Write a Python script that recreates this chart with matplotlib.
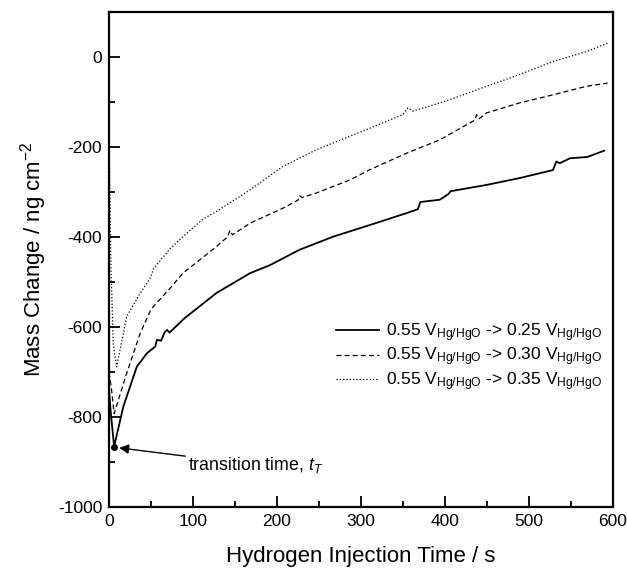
import numpy as np
import matplotlib.pyplot as plt
from matplotlib.ticker import MultipleLocator

plt.rcParams['font.family'] = ['Liberation Sans', 'DejaVu Sans']
plt.rcParams['mathtext.fontset'] = 'custom'
plt.rcParams['mathtext.rm'] = 'Liberation Sans'
plt.rcParams['mathtext.it'] = 'Liberation Sans:italic'
plt.rcParams['axes.unicode_minus'] = False

# values (time in s, mass change in ng cm^-2)
t_025 = [0, 2, 6, 17, 33, 45, 55, 57, 62, 66, 69, 72, 90, 128, 168, 192, 227, 267, 311, 354,
         368, 371, 394, 404, 407, 450, 489, 529, 533, 537, 549, 570, 590]
m_025 = [-740, -790, -865, -776, -688, -658, -643, -628, -630, -612, -606, -612, -580, -524,
         -480, -462, -428, -399, -373, -347, -338, -322, -317, -305, -298, -284, -269, -251,
         -232, -236, -225, -222, -208]

t_030 = [0, 3, 6, 21, 37, 50, 72, 88, 128, 132, 141, 144, 147, 168, 207, 225, 227, 230, 247,
         287, 311, 354, 394, 436, 438, 441, 450, 489, 529, 569, 594]
m_030 = [-700, -740, -792, -702, -614, -560, -515, -480, -421, -414, -400, -385, -395, -369,
         -336, -318, -308, -312, -302, -273, -250, -214, -184, -140, -128, -137, -124, -102,
         -84, -65, -58]

t_035 = [0, 2, 5, 9, 21, 37, 49, 53, 73, 88, 112, 128, 168, 207, 247, 287, 311, 350, 356, 362,
         394, 410, 450, 489, 529, 569, 594]
m_035 = [-180, -450, -640, -688, -576, -525, -491, -470, -425, -399, -360, -343, -295, -243,
         -206, -176, -158, -128, -113, -120, -102, -92, -65, -39, -10, 12, 31]

t_trans, m_trans = 6, -865

labels = [r'0.55 V$_{\rm Hg/HgO}$ -> 0.25 V$_{\rm Hg/HgO}$',
          r'0.55 V$_{\rm Hg/HgO}$ -> 0.30 V$_{\rm Hg/HgO}$',
          r'0.55 V$_{\rm Hg/HgO}$ -> 0.35 V$_{\rm Hg/HgO}$']

fig = plt.figure(figsize=(6.27, 5.70), dpi=100)
ax = fig.add_axes([0.174, 0.110, 0.803, 0.869])

ax.plot(t_025, m_025, '-', color='black', linewidth=1.3, label=labels[0])
ax.plot(t_030, m_030, '--', color='black', linewidth=0.9, dashes=(4, 2.5), label=labels[1])
ax.plot(t_035, m_035, ':', color='black', linewidth=0.9, label=labels[2])
ax.plot(t_trans, m_trans, 'o', color='black', markersize=4)

ax.annotate(r'transition time, $t_T$', xy=(t_trans + 6, m_trans - 3), xytext=(94, -906),
            fontsize=12.8, va='center', ha='left',
            arrowprops=dict(arrowstyle='-|>', color='black', lw=1.0, mutation_scale=14,
                            shrinkA=0, shrinkB=0))

ax.set_xlim(0, 600)
ax.set_ylim(-1000, 100)
ax.xaxis.set_major_locator(MultipleLocator(100))
ax.xaxis.set_minor_locator(MultipleLocator(50))
ax.yaxis.set_major_locator(MultipleLocator(200))
ax.yaxis.set_minor_locator(MultipleLocator(100))
ax.tick_params(which='both', direction='in', width=1.3, labelsize=12.5, pad=5)
ax.tick_params(which='major', length=8)
ax.tick_params(which='minor', length=4)
for s in ax.spines.values():
    s.set_linewidth(1.6)

ax.set_xlabel('Hydrogen Injection Time / s', fontsize=16, labelpad=12)
ax.set_ylabel(r'Mass Change / ng cm$^{-2}$', fontsize=16, labelpad=6)

ax.legend(loc='upper left', bbox_to_anchor=(0.45, 0.375), frameon=False, fontsize=12.5,
          handlelength=2.5, handletextpad=0.4, labelspacing=0.1, borderpad=0, borderaxespad=0)

fig.savefig('out.png', dpi=100)
